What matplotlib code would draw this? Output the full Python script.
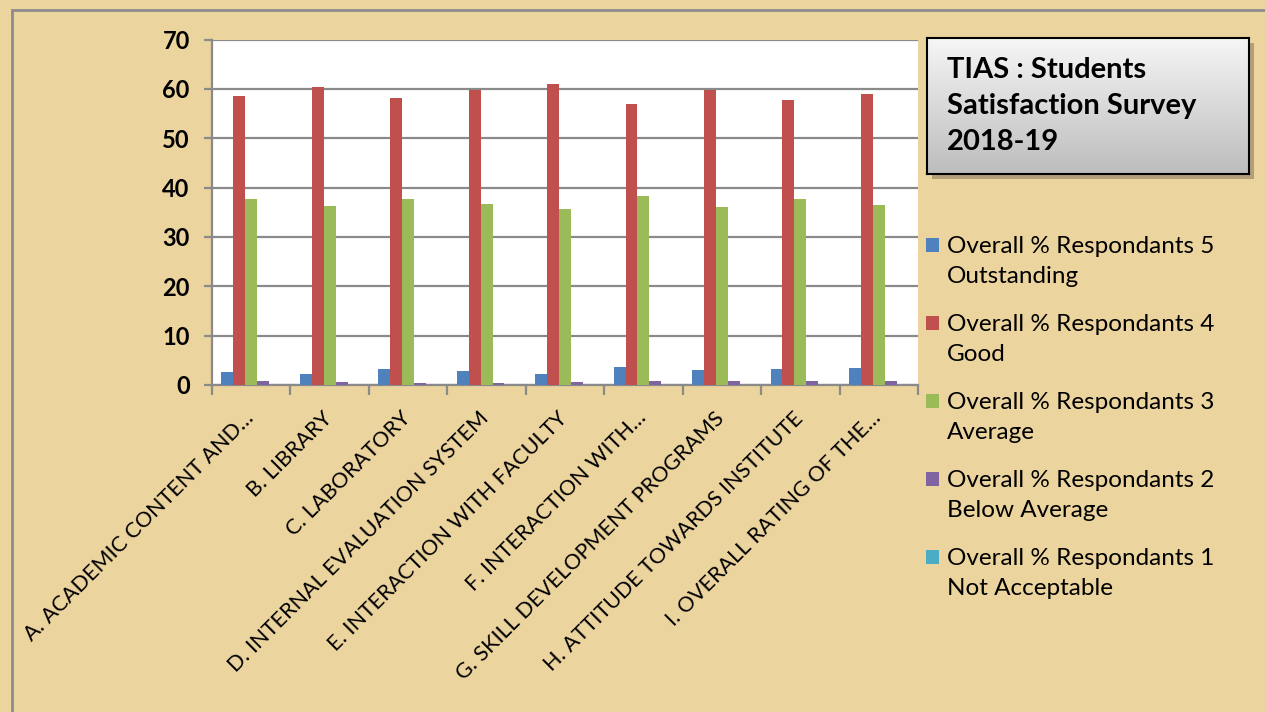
import matplotlib
matplotlib.use("Agg")
import matplotlib.pyplot as plt
import numpy as np
from matplotlib.patches import Rectangle

categories = ["A. ACADEMIC CONTENT AND…", "B. LIBRARY", "C. LABORATORY",
              "D. INTERNAL EVALUATION SYSTEM", "E. INTERACTION WITH FACULTY",
              "F. INTERACTION WITH…", "G. SKILL DEVELOPMENT PROGRAMS",
              "H. ATTITUDE TOWARDS INSTITUTE", "I. OVERALL RATING OF THE…"]
outstanding = [2.6, 2.3, 3.2, 2.8, 2.3, 3.7, 3.1, 3.3, 3.4]
good = [58.5, 60.3, 58.1, 59.7, 61.0, 56.9, 59.8, 57.7, 59.0]
average = [37.7, 36.3, 37.6, 36.6, 35.7, 38.3, 36.0, 37.7, 36.5]
below_avg = [0.8, 0.6, 0.5, 0.5, 0.6, 0.8, 0.9, 0.8, 0.8]
not_acc = [0.0, 0.0, 0.0, 0.0, 0.0, 0.0, 0.0, 0.0, 0.0]
series_labels = ["Overall % Respondants 5\nOutstanding",
                 "Overall % Respondants 4\nGood",
                 "Overall % Respondants 3\nAverage",
                 "Overall % Respondants 2\nBelow Average",
                 "Overall % Respondants 1\nNot Acceptable"]
colors = ["#4F81BD", "#C0504D", "#9BBB59", "#8064A2", "#4BACC6"]
yticks = [0, 10, 20, 30, 40, 50, 60, 70]
title_lines = "TIAS : Students\nSatisfaction Survey\n2018-19"

plt.rcParams['font.family'] = ['Lato', 'DejaVu Sans']

W, H = 1265, 712
fig = plt.figure(figsize=(W / 100, H / 100), dpi=100)
fig.patch.set_facecolor("#ECD49F")
# outer frame
fig.patches.append(Rectangle((12 / W, -0.01), 1.2, (H - 10) / H + 0.01, transform=fig.transFigure,
                             fill=False, edgecolor="#8C8C8C", linewidth=2, zorder=-2))

ax = fig.add_axes([212 / W, 1 - 385 / H, (918 - 212) / W, (385 - 39.5) / H])
ax.set_facecolor("white")
series = [outstanding, good, average, below_avg, not_acc]
x = np.arange(len(categories))
bw = 0.152
start = -0.5 + 0.12
for i, (vals, c, lab) in enumerate(zip(series, colors, series_labels)):
    ax.bar(x + start + bw * i + bw / 2, vals, width=bw, color=c, label=lab, zorder=3,
           edgecolor="none")

ax.set_xlim(-0.5, len(categories) - 0.5)
ax.set_ylim(0, 70)
ax.set_yticks(yticks)
ax.set_yticklabels([str(v) for v in yticks], fontsize=17, fontweight="bold")
ax.yaxis.grid(True, color="#8A8A8A", linewidth=1.6, zorder=1)
ax.set_axisbelow(True)
for s in ["top", "right"]:
    ax.spines[s].set_visible(False)
for s in ["left", "bottom"]:
    ax.spines[s].set_color("#8A8A8A")
    ax.spines[s].set_linewidth(1.6)
ax.tick_params(axis="y", length=6, width=1.6, color="#8A8A8A", pad=10)
ax.set_xticks(np.arange(-0.5, len(categories), 1.0))
ax.set_xticklabels([])
ax.tick_params(axis="x", length=7, width=1.6, color="#8A8A8A")

for i, lab in enumerate(categories):
    ax.annotate(lab, xy=(i - 0.01, 0), xycoords="data", xytext=(0, -30), textcoords="offset pixels",
                rotation=45, rotation_mode="anchor", ha="right", va="center",
                fontsize=15.5, annotation_clip=False)

# legend (manual layout)
for i, (c, lab) in enumerate(zip(colors, series_labels)):
    ybase = 252 + 78 * i
    fig.patches.append(Rectangle((926 / W, 1 - ybase / H), 13 / W, 14 / H,
                                 transform=fig.transFigure, facecolor=c, edgecolor="none"))
    fig.text(947 / W, 1 - (ybase + 31) / H, lab, ha="left", va="baseline", fontsize=17.5,
             linespacing=1.55)

# title box with gradient and shadow
bx0, by0, bx1, by1 = 927, 38, 1249, 174
fig.patches.append(Rectangle(((bx0 + 5) / W, 1 - (by1 + 5) / H), (bx1 - bx0) / W, (by1 - by0) / H,
                             transform=fig.transFigure, facecolor="#6e6048", alpha=0.45,
                             edgecolor="none", zorder=-1))
tax = fig.add_axes([bx0 / W, 1 - by1 / H, (bx1 - bx0) / W, (by1 - by0) / H])
grad = np.linspace(0, 1, 100).reshape(-1, 1)
tax.imshow(grad, aspect="auto", cmap=matplotlib.colors.LinearSegmentedColormap.from_list(
    "g", ["#F6F6F6", "#BDBDBD"]), extent=[0, 1, 0, 1], origin="upper")
tax.set_xticks([]); tax.set_yticks([])
for s in tax.spines.values():
    s.set_color("black"); s.set_linewidth(1.5)
tax.text(20 / (bx1 - bx0), 0.5, title_lines, transform=tax.transAxes, ha="left", va="center",
         fontsize=21, fontweight="bold", linespacing=1.5)

fig.savefig("out.png", dpi=100, facecolor=fig.get_facecolor())
